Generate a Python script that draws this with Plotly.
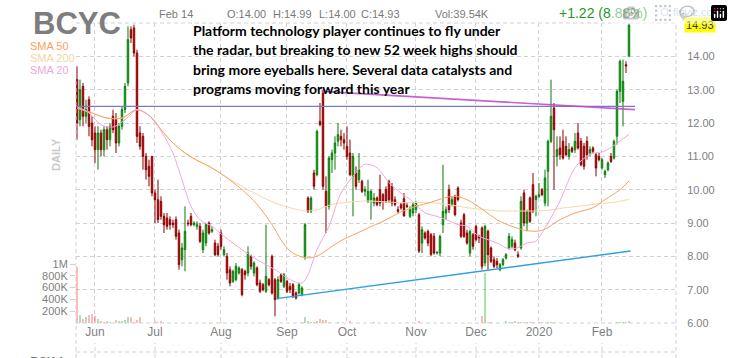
import plotly.graph_objects as go

# ---------------- data ----------------
month_ticks = [6, 26, 48, 70, 90, 113, 133, 154, 175]
month_labels = ['Jun', 'Jul', 'Aug', 'Sep', 'Oct', 'Nov', 'Dec', '2020', 'Feb']
price_ticks = [6, 7, 8, 9, 10, 11, 12, 13, 14]
vol_ticks = [200000, 400000, 600000, 800000, 1000000]
vol_labels = ['200K', '400K', '600K', '800K', '1M']

open_ = [
    13.3, 12.1, 13.1, 12.2, 12.7, 12.0,
    11.7, 11.2, 11.7, 11.2, 11.8, 11.5, 12.2, 12.1, 11.4, 11.9, 12.4, 13.2, 14.8, 14.85, 14.1, 11.7, 11.6, 11.0, 10.7, 11.0,
    9.9, 9.7, 9.65, 9.2, 9.15, 9.1, 9.0, 9.1, 8.7, 7.9, 8.2, 9.0, 9.2, 8.95, 8.9, 8.9, 8.2, 8.4, 9.0, 8.75, 8.4, 8.3,
    8.7, 8.05, 8.0, 7.6, 7.25, 7.3, 7.5, 7.6, 7.55, 7.5, 8.0, 7.5, 7.65, 7.2, 7.15, 6.95, 7.3, 8.0, 7.3, 6.75, 7.45, 7.1,
    7.25, 7.1, 7.15, 6.9, 6.9, 6.85, 8.0, 9.75, 9.35, 10.5, 10.45, 12.05, 12.9, 9.95, 9.5, 10.9, 11.1, 11.45, 11.6, 11.5,
    11.3, 11.1, 10.4, 10.5, 10.3, 10.25, 9.95, 9.65, 9.7, 9.6, 9.75, 10.0, 9.85, 10.0, 10.25, 10.1, 9.7, 9.4, 9.55, 9.73, 9.52, 9.2, 9.3,
    9.4, 9.25, 8.4, 8.7, 8.75, 8.65, 8.6, 8.1, 8.1, 8.95, 9.3, 10.0, 9.55, 9.8, 10.05, 9.0, 9.25, 8.7, 8.1, 8.65,
    8.9, 8.6, 8.85, 7.8, 8.75, 8.25, 7.9, 7.85, 7.6, 7.75, 7.95, 8.25, 8.3, 8.4, 8.05, 8.25, 9.9, 9.0, 9.75, 10.15, 9.7,
    9.8, 10.0, 9.6, 10.55, 11.45, 12.45, 11.0, 11.25, 11.45, 11.3, 11.0, 11.25, 11.2, 11.7, 11.45, 11.3, 11.45, 11.1, 11.25, 11.05, 11.0,
    10.65, 10.45, 10.6, 11.0, 10.95, 11.6, 12.95, 12.65, 13.75, 14.0,
]
high = [
    13.7, 13.3, 13.2, 12.7, 12.8, 12.2,
    11.9, 11.9, 11.8, 11.9, 11.9, 12.0, 12.4, 12.3, 12.0, 12.5, 13.2, 14.9, 14.9, 14.95, 14.2, 11.9, 11.7, 11.1, 10.9, 11.0,
    10.0, 10.3, 9.8, 9.3, 9.3, 9.2, 9.1, 9.2, 8.8, 8.4, 9.5, 9.1, 9.3, 9.05, 9.05, 9.0, 8.8, 9.0, 9.05, 8.9, 8.5, 8.4,
    8.8, 8.3, 8.1, 7.7, 7.6, 7.8, 7.7, 7.65, 7.6, 8.3, 8.05, 7.85, 7.7, 7.3, 7.2, 8.95, 7.35, 8.05, 7.35, 7.4, 7.5, 7.5,
    7.3, 7.2, 7.2, 6.95, 7.2, 7.1, 9.0, 9.8, 9.8, 10.6, 11.8, 12.6, 13.0, 10.4, 11.0, 11.2, 11.6, 12.0, 11.8, 11.7,
    11.9, 11.5, 11.1, 10.7, 11.1, 10.3, 10.1, 10.3, 10.0, 9.9, 9.8, 10.45, 9.9, 10.1, 10.3, 10.2, 9.8, 9.5, 9.6, 9.9, 9.6, 9.5, 9.6,
    9.65, 9.3, 8.9, 8.75, 8.8, 8.7, 8.7, 8.15, 8.65, 10.75, 9.5, 10.15, 9.8, 9.85, 10.1, 9.1, 9.3, 8.8, 8.8, 8.7,
    8.95, 8.65, 8.9, 8.95, 8.8, 8.3, 8.0, 7.95, 7.8, 7.95, 8.1, 8.7, 8.6, 8.5, 8.15, 9.8, 10.0, 9.4, 9.8, 10.5, 9.85,
    10.2, 10.05, 10.6, 11.5, 13.3, 12.6, 11.6, 11.6, 11.8, 11.6, 11.4, 11.3, 11.7, 12.0, 11.55, 11.4, 11.6, 11.3, 11.3, 11.1, 11.1,
    10.95, 10.6, 10.85, 11.1, 11.5, 13.0, 13.9, 13.9, 13.85, 14.99,
]
low = [
    11.5, 11.9, 11.9, 12.0, 11.6, 11.3,
    10.8, 10.6, 11.0, 11.0, 11.2, 11.3, 11.7, 11.1, 11.3, 11.8, 12.3, 13.1, 14.4, 14.0, 11.4, 11.2, 10.6, 10.3, 10.1, 9.8,
    9.0, 9.0, 9.1, 8.7, 8.8, 8.8, 8.85, 8.5, 7.6, 7.7, 7.55, 8.9, 8.9, 8.9, 8.8, 8.4, 8.1, 8.3, 8.65, 8.7, 8.0, 8.0,
    8.2, 8.0, 7.3, 7.1, 7.2, 7.25, 7.45, 6.8, 7.3, 7.4, 7.6, 7.4, 7.1, 6.9, 6.95, 6.9, 7.1, 6.85, 6.2, 6.7, 7.2, 7.05,
    6.9, 6.9, 6.75, 6.7, 6.85, 6.8, 7.9, 9.3, 9.3, 10.0, 10.4, 11.9, 10.0, 8.7, 9.4, 10.5, 10.6, 11.3, 11.3, 11.2,
    10.9, 10.4, 9.2, 10.0, 10.2, 9.9, 9.8, 9.6, 9.1, 9.5, 9.5, 9.5, 9.4, 9.6, 9.6, 9.5, 9.5, 9.3, 9.4, 9.2, 9.45, 9.15, 9.2,
    9.3, 8.1, 8.1, 8.5, 8.3, 8.0, 8.05, 8.05, 8.0, 8.7, 9.1, 9.3, 9.5, 9.2, 9.65, 8.55, 8.55, 8.35, 8.0, 8.2,
    8.45, 8.4, 7.6, 7.7, 7.6, 7.8, 7.65, 7.65, 7.55, 7.7, 7.9, 8.2, 8.25, 8.15, 7.95, 8.2, 8.9, 8.75, 9.0, 9.3, 9.2,
    9.75, 9.8, 9.5, 9.5, 11.4, 10.0, 10.7, 10.9, 10.9, 11.0, 10.9, 11.1, 11.1, 11.2, 10.7, 10.6, 10.9, 11.0, 11.1, 10.4, 10.85,
    10.6, 10.35, 10.55, 10.8, 10.9, 11.35, 12.6, 11.9, 13.5, 14.0,
]
close = [
    12.0, 13.0, 12.2, 12.4, 11.9, 11.5,
    11.2, 11.7, 11.2, 11.8, 11.5, 11.9, 11.8, 11.4, 11.9, 12.4, 13.1, 14.5, 14.55, 14.1, 11.6, 11.3, 11.0, 10.6, 10.4, 9.9,
    9.7, 9.1, 9.2, 8.95, 8.9, 8.95, 8.95, 8.6, 7.75, 8.25, 8.75, 8.98, 8.95, 9.0, 8.95, 8.45, 8.7, 8.95, 8.7, 8.8, 8.05, 8.05,
    8.3, 8.2, 7.5, 7.2, 7.55, 7.7, 7.65, 6.85, 7.45, 8.1, 7.7, 7.8, 7.15, 6.95, 7.0, 7.4, 7.15, 6.9, 6.7, 7.3, 7.25, 7.45,
    6.95, 7.0, 6.8, 6.75, 7.15, 7.05, 8.95, 9.35, 9.75, 10.1, 11.75, 11.95, 10.1, 9.5, 10.95, 11.1, 11.4, 11.65, 11.5, 11.4,
    11.0, 10.45, 11.0, 10.1, 10.6, 9.95, 10.0, 9.95, 9.95, 9.75, 9.55, 9.6, 9.65, 9.65, 9.7, 9.6, 9.55, 9.35, 9.45, 9.21, 9.5, 9.4, 9.55,
    9.6, 8.16, 8.8, 8.55, 8.4, 8.06, 8.1, 8.12, 8.6, 9.35, 9.4, 9.4, 9.7, 9.25, 9.7, 8.6, 8.6, 8.4, 8.75, 8.3,
    8.5, 8.55, 7.7, 8.9, 8.05, 7.85, 7.7, 7.75, 7.75, 7.9, 8.05, 8.6, 8.5, 8.2, 8.0, 9.65, 9.0, 9.35, 9.05, 9.35, 9.8,
    9.85, 9.85, 10.35, 11.45, 12.2, 11.8, 11.2, 11.05, 10.95, 11.05, 11.2, 11.15, 11.45, 11.25, 10.75, 10.7, 11.05, 11.2, 11.15, 10.65, 10.9,
    10.9, 10.55, 10.8, 10.85, 11.45, 12.95, 13.85, 13.25, 13.71, 14.93,
]
volume_k = [
    955, 136, 60, 100, 130, 160,
    120, 70, 40, 25, 40, 10, 8, 55, 40, 30, 45, 110, 110, 10, 45, 100, 8, 6, 6, 6,
    35, 20, 30, 6, 5, 5, 6, 5, 8, 6, 5, 6, 7, 6, 5, 5, 6, 5, 6, 5, 6, 5,
    20, 6, 5, 6, 5, 5, 6, 8, 5, 5, 6, 5, 5, 6, 5, 5, 8, 5, 6, 8, 5, 6,
    6, 5, 6, 5, 5, 20, 107, 35, 20, 20, 35, 60, 45, 45, 20, 8, 6, 10, 6, 5,
    6, 35, 6, 5, 6, 5, 5, 6, 5, 20, 5, 6, 5, 5, 6, 5, 5, 6, 5, 6, 5, 5, 6,
    5, 30, 6, 5, 6, 5, 5, 6, 5, 8, 6, 5, 6, 5, 6, 5, 6, 5, 5, 6,
    6, 6, 115, 850, 20, 20, 8, 6, 6, 5, 30, 25, 25, 30, 20, 20, 25, 15, 12, 10, 8,
    10, 15, 8, 20, 25, 20, 8, 6, 6, 5, 6, 5, 6, 5, 8, 6, 5, 6, 5, 6, 5,
    6, 5, 6, 5, 8, 10, 15, 20, 20, 40,
]

sma50_x = [0, 5, 10, 15, 20, 25, 28, 32, 36, 40, 44, 49, 55, 60, 65, 68, 71, 75, 78, 81, 85, 89, 93, 97,
           102, 108, 113, 118, 122, 126, 130, 135, 140, 145, 150, 154, 157, 160, 166, 172, 176, 181, 184]
sma50_y = [12.45, 12.3, 12.15, 12.15, 12.4, 12.15, 11.8, 11.4, 11.1, 10.88, 10.7, 10.42, 10.0, 9.56, 8.95, 8.5,
           8.16, 7.98, 7.96, 8.05, 8.3, 8.52, 8.68, 8.85, 9.05, 9.33, 9.5, 9.62, 9.74, 9.8, 9.7, 9.42, 9.1, 8.9,
           8.77, 8.76, 8.86, 9.05, 9.3, 9.46, 9.7, 10.0, 10.26]
sma200_x = [0, 5, 10, 15, 20, 25, 28, 32, 36, 40, 44, 48, 54, 60, 66, 71, 76, 80, 85, 90, 96, 102, 108, 118,
            124, 130, 136, 141, 146, 152, 157, 162, 168, 174, 179, 184]
sma200_y = [12.45, 12.3, 12.15, 12.15, 12.4, 12.15, 11.8, 11.4, 11.1, 10.88, 10.7, 10.48, 10.15, 9.86, 9.6,
            9.46, 9.36, 9.4, 9.56, 9.62, 9.66, 9.64, 9.61, 9.61, 9.55, 9.46, 9.4, 9.36, 9.36, 9.36, 9.38, 9.45,
            9.51, 9.58, 9.62, 9.71]
sma20_x = [0, 4, 8, 12, 16, 20, 23, 27, 30, 32, 35, 38, 41, 45, 49, 55, 60, 66, 71, 75, 77, 80, 84, 88, 92,
           96, 100, 104, 108, 111, 116, 120, 123, 127, 130, 134, 137, 141, 144, 147, 150, 153, 156, 161, 166,
           171, 176, 181, 184]
sma20_y = [12.5, 12.3, 11.95, 11.88, 12.1, 12.4, 12.3, 11.9, 11.45, 11.1, 10.3, 9.5, 9.1, 8.9, 8.6, 8.2, 7.9,
           7.6, 7.3, 7.2, 7.45, 8.2, 8.9, 9.9, 10.4, 10.76, 10.66, 10.21, 9.9, 9.71, 9.31, 9.2, 9.1, 8.95, 8.9,
           8.6, 8.5, 8.36, 8.22, 8.26, 8.4, 8.46, 8.86, 9.66, 10.66, 11.06, 11.16, 11.46, 11.66]

resist_x = [-0.33, 186]
resist_y = [12.5, 12.5]
down_x = [81.5, 186]
down_y = [12.95, 12.4]
support_x = [66.5, 184.5]
support_y = [6.73, 8.16]

last_close = 14.93

# ---------------- layout helpers ----------------
W, H = 733, 358
ML, MR, MT, MB = 76, 57, 23, 35
PW = W - ML - MR
PH = H - MT - MB


def px(x):
    return (x - ML) / PW


def py(y):
    return (H - MB - y) / PH


GRID = '#d2d2d2'
DASH = '4px,3px'
AX = '#808080'
FONT = 'Liberation Sans, Arial, sans-serif'

idx = list(range(len(close)))
vol = [v * 1000 for v in volume_k]
vol_colors = ['rgba(0,165,0,0.33)' if c >= o else 'rgba(255,40,40,0.32)' for o, c in zip(open_, close)]

fig = go.Figure()
fig.add_trace(go.Bar(x=idx, y=vol, marker_color=vol_colors, marker_line_width=0, width=0.8,
                     yaxis='y', hoverinfo='skip'))
fig.add_trace(go.Candlestick(
    x=idx, open=open_, high=high, low=low, close=close, yaxis='y2', whiskerwidth=0,
    increasing=dict(line=dict(color='#0a7a0a', width=1), fillcolor='#1ec81e'),
    decreasing=dict(line=dict(color='#870000', width=1), fillcolor='#e30e0e'),
    hoverinfo='skip'))
for xs, ys, col in [(sma200_x, sma200_y, '#f6d9a8'), (sma50_x, sma50_y, '#fba25a'),
                    (sma20_x, sma20_y, '#f3a6dd')]:
    fig.add_trace(go.Scatter(x=xs, y=ys, mode='lines', yaxis='y2', hoverinfo='skip',
                             line=dict(color=col, width=1, shape='spline', smoothing=0.9)))
fig.add_trace(go.Scatter(x=resist_x, y=resist_y, mode='lines', yaxis='y2', hoverinfo='skip',
                         line=dict(color='#7b78c9', width=1.2)))
fig.add_trace(go.Scatter(x=down_x, y=down_y, mode='lines', yaxis='y2', hoverinfo='skip',
                         line=dict(color='rgba(190,70,200,0.85)', width=1.6)))
fig.add_trace(go.Scatter(x=support_x, y=support_y, mode='lines', yaxis='y2', hoverinfo='skip',
                         line=dict(color='#2d9fe3', width=1.4)))

shapes = []
lined = dict(color=GRID, width=1, dash=DASH)
shapes.append(dict(type='line', xref='paper', yref='paper', x0=0, x1=1, y0=1, y1=1, line=lined))
shapes.append(dict(type='line', xref='paper', yref='paper', x0=0, x1=1, y0=0, y1=0, line=lined))
shapes.append(dict(type='line', xref='paper', yref='paper', x0=0, x1=0, y0=py(358), y1=py(78), line=lined))
shapes.append(dict(type='line', xref='paper', yref='paper', x0=1, x1=1, y0=py(358), y1=1, line=lined))
shapes.append(dict(type='line', xref='paper', yref='paper', x0=0, x1=1, y0=py(352), y1=py(352), line=lined))
for t in month_ticks:
    shapes.append(dict(type='line', xref='x', yref='paper', x0=t, x1=t, y0=py(358), y1=py(343), line=lined))

ann = []


def add_text(x, y, text, size, color, xanchor='left', family=FONT, weight='normal', **kw):
    ann.append(dict(xref='paper', yref='paper', x=px(x), y=py(y), text=text, showarrow=False,
                    xanchor=xanchor, yanchor='middle',
                    font=dict(family=family, size=size, color=color, weight=weight), **kw))


add_text(31, 24, 'BCYC', 31, '#7d7d7d', weight='bold')
add_text(28, 46, 'SMA 50', 11, '#fba25a')
add_text(28, 58, 'SMA 200', 11, '#f3d6a6')
add_text(28, 70, 'SMA 20', 11, '#f3a6dd')
add_text(56, 155, 'DAILY', 11, '#c9c9c9', xanchor='center', weight='bold', textangle=-90)
add_text(157, 14, 'Feb 14', 11, '#7a7a7a')
add_text(225, 14, 'O:14.00', 11, '#7a7a7a')
add_text(271, 14, 'H:14.99', 11, '#7a7a7a')
add_text(317, 14, 'L:14.00', 11, '#7a7a7a')
add_text(359, 14, 'C:14.93', 11, '#7a7a7a')
add_text(433, 14, 'Vol:39.54K', 11, '#7a7a7a')
add_text(557, 13, '+1.22 (8.88%)', 14, '#1d9a1d')
add_text(671, 12, 'finviz.com', 11, '#a8c0dc')
add_text(28, 362, 'RSI14', 12, '#7a7a7a', weight='bold')

note_lines = ['Platform technology player continues to fly under',
              'the radar, but breaking to new 52 week highs should',
              'bring more eyeballs here. Several data catalysts and',
              'programs moving forward this year']
for k, line in enumerate(note_lines):
    add_text(191, 31 + 19 * k, line, 14, '#000000', family='Lato, sans-serif', weight='bold')

ann.append(dict(xref='paper', yref='y2', x=px(684), y=last_close, text='14.93', showarrow=False,
                xanchor='left', yanchor='middle', bgcolor='#ffff00', borderpad=1,
                font=dict(family=FONT, size=11, color='#333333')))

shapes.append(dict(type='circle', xref='paper', yref='paper', x0=px(661), x1=px(668),
                   y0=py(15.5), y1=py(8.5), line=dict(color='#a8c0dc', width=1)))

fig.update_layout(
    width=W, height=H, margin=dict(l=ML, r=MR, t=MT, b=MB, autoexpand=False),
    paper_bgcolor='white', plot_bgcolor='white', showlegend=False,
    xaxis=dict(range=[-0.33, 199.67], tickvals=month_ticks, ticktext=month_labels, showgrid=True,
               gridcolor=GRID, griddash=DASH, gridwidth=1, zeroline=False, showline=False, ticks='',
               tickfont=dict(family=FONT, size=12, color=AX), rangeslider=dict(visible=False),
               fixedrange=True, automargin=False),
    yaxis=dict(range=[0, 1e6 * PH / 59], tickvals=vol_ticks, ticktext=vol_labels, side='left',
               showgrid=False, zeroline=False, showline=False, ticks='outside', ticklen=5,
               tickcolor='#cfcfcf', tickfont=dict(family=FONT, size=11, color=AX), automargin=False,
               fixedrange=True),
    yaxis2=dict(overlaying='y', side='right', range=[6, 15], tickvals=price_ticks,
                ticktext=['%.2f' % v for v in price_ticks], showgrid=True, gridcolor=GRID, griddash=DASH,
                zeroline=False, showline=False, ticks='outside', ticklen=8, tickcolor='rgba(0,0,0,0)',
                tickfont=dict(family=FONT, size=11, color=AX), automargin=False, fixedrange=True),
    shapes=shapes, annotations=ann, bargap=0,
)

fig.write_html('out.html', post_script="document.body.style.margin='0px';document.body.style.overflow='hidden';")
